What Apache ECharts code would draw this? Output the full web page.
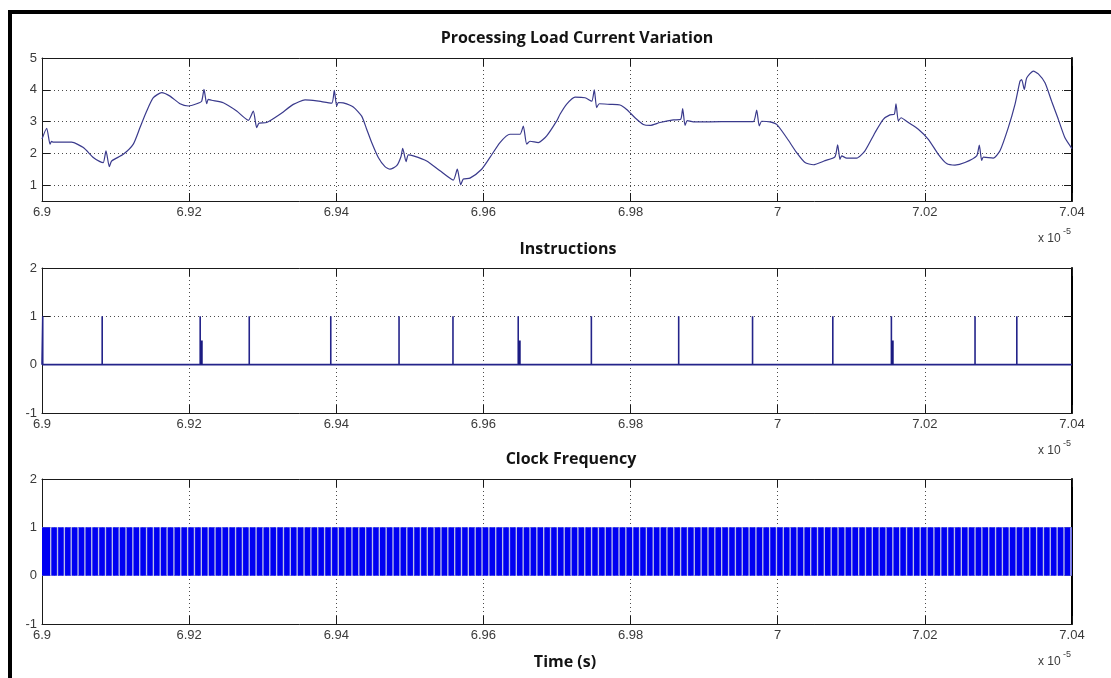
<!DOCTYPE html>
<html><head><meta charset="utf-8">
<script src="https://cdn.jsdelivr.net/npm/echarts@6/dist/echarts.min.js"></script>
<style>html,body{margin:0;padding:0;background:#fff}#c{width:1111px;height:678px}</style>
</head><body><div id="c"></div>
<script>
// ---- DATA (time in units of 1e-5 s) ----
const xMin = 6.9, xMax = 7.04, xStep = 0.02;
const currentTicks = [1, 2, 3, 4, 5];
const binaryTicks = [-1, 0, 1, 2];
const titles = ['Processing Load Current Variation', 'Instructions', 'Clock Frequency'];
const xAxisName = 'Time (s)';

const currentTime = [
6.90000,6.90064,6.90109,6.90130,6.90154,6.90403,6.90562,6.90697,6.90788,6.90833,6.90870,6.90915,6.90947,
6.91105,6.91241,6.91332,6.91423,6.91513,6.91627,6.91740,6.91876,6.91989,6.92102,6.92170,6.92202,6.92238,
6.92260,6.92306,6.92464,6.92646,6.92804,6.92872,6.92918,6.92950,6.93054,6.93235,6.93416,6.93575,
6.93734,6.93938,6.93973,6.94005,6.94028,6.94095,6.94231,6.94345,6.94413,6.94481,6.94571,6.94662,6.94730,
6.94821,6.94880,6.94903,6.94948,6.94979,6.95047,6.95229,6.95410,6.95591,6.95645,6.95691,6.95727,6.95817,
6.95976,6.96089,6.96225,6.96361,6.96497,6.96542,6.96588,6.96633,6.96746,6.96860,6.96996,
6.97041,6.97132,6.97245,6.97381,6.97472,6.97507,6.97539,6.97575,6.97720,6.97856,6.97947,6.98060,6.98173,
6.98264,6.98400,6.98581,6.98681,6.98708,6.98740,6.98771,6.98853,6.99079,6.99396,6.99668,6.99714,6.99749,
6.99782,6.99895,6.99986,7.00122,7.00258,7.00371,7.00484,
7.00643,7.00778,7.00815,7.00846,7.00869,7.00937,7.01073,7.01186,7.01322,7.01435,7.01526,7.01585,7.01608,
7.01639,7.01676,7.01775,7.01911,7.02047,7.02183,7.02296,7.02409,7.02545,7.02704,7.02740,7.02772,7.02795,
7.02930,7.03021,7.03134,7.03225,7.03293,7.03316,7.03352,7.03384,7.03474,7.03542,7.03633,7.03723,7.03814,
7.03904,7.04000];
const currentValue = [
2.45,2.79,2.29,2.38,2.35,2.35,2.18,1.87,1.74,1.71,2.08,1.58,1.76,
1.97,2.29,2.81,3.33,3.75,3.91,3.80,3.56,3.49,3.56,3.64,4.01,3.56,
3.70,3.67,3.59,3.33,3.04,3.33,2.81,2.95,2.97,3.23,3.54,3.68,
3.65,3.58,3.98,3.49,3.60,3.59,3.46,3.17,2.76,2.34,1.87,1.58,1.50,
1.61,1.90,2.16,1.74,1.95,1.92,1.76,1.45,1.16,1.50,1.01,1.19,1.22,
1.50,1.87,2.34,2.60,2.60,2.86,2.29,2.38,2.34,2.55,3.02,
3.23,3.55,3.77,3.75,3.64,4.00,3.44,3.56,3.54,3.52,3.38,3.12,2.91,
2.88,2.97,3.05,3.07,3.41,2.88,3.03,2.99,2.99,3.00,3.00,3.36,2.86,
3.01,2.99,2.91,2.49,2.02,1.71,1.64,
1.77,1.89,2.27,1.81,1.92,1.85,1.85,2.08,2.65,3.07,3.21,3.23,3.56,
3.02,3.12,2.97,2.76,2.44,1.97,1.68,1.63,1.71,1.92,2.26,1.78,1.88,
1.85,2.08,2.81,3.54,4.27,4.32,4.01,4.37,4.59,4.50,4.22,3.64,3.07,
2.49,2.15];

const instrTimes = [6.9001,6.90818,6.92150,6.92817,6.93925,6.94853,6.95586,6.96473,6.97467,6.98654,6.99658,7.00749,7.01545,7.02682,7.03250];
const instrHalfTimes = [6.92168,6.96490,7.01560];
const instrHigh = 1, instrHalf = 0.5, instrLow = 0;

// clock: start times of the short low phases
const clockLowStart = [
6.90109,6.90202,6.90295,6.90388,6.90481,6.90574,6.90667,6.90760,6.90854,6.90947,
6.91040,6.91133,6.91226,6.91319,6.91412,6.91505,6.91598,6.91691,6.91784,6.91877,
6.91970,6.92063,6.92157,6.92250,6.92343,6.92436,6.92529,6.92622,6.92715,6.92808,
6.92901,6.92994,6.93087,6.93180,6.93273,6.93366,6.93459,6.93553,6.93646,6.93739,
6.93832,6.93925,6.94018,6.94111,6.94204,6.94297,6.94390,6.94483,6.94576,6.94669,
6.94762,6.94856,6.94949,6.95042,6.95135,6.95228,6.95321,6.95414,6.95507,6.95600,
6.95693,6.95786,6.95879,6.95972,6.96065,6.96158,6.96252,6.96345,6.96438,6.96531,
6.96624,6.96717,6.96810,6.96903,6.96996,6.97089,6.97182,6.97275,6.97368,6.97461,
6.97554,6.97647,6.97740,6.97834,6.97927,6.98020,6.98113,6.98206,6.98299,6.98392,
6.98485,6.98578,6.98671,6.98764,6.98857,6.98950,6.99043,6.99136,6.99229,6.99323,
6.99416,6.99509,6.99602,6.99695,6.99788,6.99881,6.99974,7.00067,7.00160,7.00253,
7.00346,7.00439,7.00532,7.00625,7.00718,7.00811,7.00905,7.00998,7.01091,7.01184,
7.01277,7.01370,7.01463,7.01556,7.01649,7.01742,7.01835,7.01928,7.02021,7.02114,
7.02207,7.02300,7.02393,7.02487,7.02580,7.02673,7.02766,7.02859,7.02952,7.03045,
7.03138,7.03231,7.03324,7.03417,7.03510,7.03603,7.03696,7.03789,7.03882,7.03976];
const clockLowDuration = 0.00018;
const clockHigh = 1, clockLow = 0;

// ---- BUILD ----
const currentData = currentTime.map((t, i) => [t, currentValue[i]]);
const instrData = [[xMin, instrLow]];
instrTimes.forEach(t => { instrData.push([t, instrLow], [t, instrHigh], [t, instrLow]); });
instrData.push([xMax, instrLow]);
const halfData = [];
instrHalfTimes.forEach(t => { halfData.push([t, instrLow], [t, instrHalf], '-'); });

const pulses = [];
let prev = xMin;
clockLowStart.forEach(g => { pulses.push([prev, g, clockLow, clockHigh]); prev = g + clockLowDuration; });
pulses.push([prev, xMax, clockLow, clockHigh]);

const FONT = '"Liberation Sans", Arial, sans-serif';
const TFONT = '"Open Sans", sans-serif';
const grids = [
  {left: 42, top: 58, width: 1030, height: 143},
  {left: 42, top: 268, width: 1030, height: 145},
  {left: 42, top: 479, width: 1030, height: 145}
];
const yRanges = [[0.5, 5, currentTicks], [-1, 2, binaryTicks], [-1, 2, binaryTicks]];
const dotted = {color: '#4a4a4a', width: 1, type: [1, 3]};
const xAxes = [], yAxes = [];
grids.forEach((g, gi) => {
  xAxes.push({
    gridIndex: gi, type: 'value', min: xMin, max: xMax, interval: xStep, position: 'bottom',
    axisLine: {onZero: false, lineStyle: {color: '#1a1a1a', width: 1}},
    axisTick: {inside: true, length: 8, lineStyle: {color: '#1a1a1a'}},
    axisLabel: {color: '#3a3a3a', fontSize: 13, fontFamily: FONT, margin: 5,
      formatter: v => String(+(+v).toFixed(2))},
    splitLine: {show: true, lineStyle: dotted}
  });
  xAxes.push({
    gridIndex: gi, type: 'value', min: xMin, max: xMax, interval: xStep, position: 'top',
    axisLine: {onZero: false, lineStyle: {color: '#1a1a1a', width: 1}},
    axisTick: {inside: true, length: 8, lineStyle: {color: '#1a1a1a'}},
    axisLabel: {show: false}, splitLine: {show: false}
  });
  const [lo, hi, ticks] = yRanges[gi];
  yAxes.push({
    gridIndex: gi, type: 'value', min: lo, max: hi, position: 'left',
    axisLine: {show: true, onZero: false, lineStyle: {color: '#1a1a1a', width: 1}},
    axisTick: {show: true, inside: true, length: 8, customValues: ticks, lineStyle: {color: '#1a1a1a'}},
    axisLabel: {customValues: ticks, color: '#3a3a3a', fontSize: 13, fontFamily: FONT, margin: 5},
    splitLine: {show: true, lineStyle: dotted}
  });
  yAxes.push({
    gridIndex: gi, type: 'value', min: lo, max: hi, position: 'right',
    axisLine: {show: true, onZero: false, lineStyle: {color: '#000', width: 2}},
    axisTick: {show: true, inside: true, length: 8, customValues: ticks, lineStyle: {color: '#1a1a1a'}},
    axisLabel: {show: false}, splitLine: {show: false}
  });
});

const rectItem = (fill) => (params, api) => {
  const a = api.coord([api.value(0), api.value(3)]);
  const b = api.coord([api.value(1), api.value(2)]);
  return {type: 'rect', shape: {x: a[0], y: a[1], width: b[0] - a[0], height: b[1] - a[1]}, style: {fill: fill}};
};

const titleText = (txt, x, y) => ({type: 'text', x: x, y: y, z: 10,
  style: {text: txt, font: 'bold 16px ' + TFONT, fill: '#141414', align: 'center', verticalAlign: 'middle', textAlign: 'center', textVerticalAlign: 'middle'}});
const expText = (y) => ([
  {type: 'text', x: 1038, y: y, style: {text: 'x 10', font: '12px ' + FONT, fill: '#3a3a3a', verticalAlign: 'middle', textVerticalAlign: 'middle'}},
  {type: 'text', x: 1063, y: y - 7, style: {text: '-5', font: '9px ' + FONT, fill: '#3a3a3a', verticalAlign: 'middle', textVerticalAlign: 'middle'}}
]);

const chart = echarts.init(document.getElementById('c'), null, {renderer: 'canvas'});
chart.setOption({
  animation: false,
  backgroundColor: '#fff',
  grid: grids.map(g => Object.assign({outerBoundsMode: 'none', containLabel: false}, g)),
  xAxis: xAxes,
  yAxis: yAxes,
  series: [
    {type: 'line', xAxisIndex: 0, yAxisIndex: 0, data: currentData, showSymbol: false, symbol: 'none',
     smooth: 0.2,
     lineStyle: {color: '#3a3a8c', width: 1.2}, z: 5},
    {type: 'line', xAxisIndex: 2, yAxisIndex: 2, data: instrData, showSymbol: false, symbol: 'none',
     lineStyle: {color: '#24248a', width: 1.6}, z: 5},
    {type: 'line', xAxisIndex: 2, yAxisIndex: 2, data: halfData, showSymbol: false, symbol: 'none',
     connectNulls: false, lineStyle: {color: '#1a1a80', width: 2.5}, z: 6},
    {type: 'custom', xAxisIndex: 4, yAxisIndex: 4, data: [[xMin, xMax, clockLow, clockHigh]],
     encode: {x: [0, 1], y: [2, 3]}, renderItem: rectItem('#b9bde6'), z: 4},
    {type: 'custom', xAxisIndex: 4, yAxisIndex: 4, data: pulses,
     encode: {x: [0, 1], y: [2, 3]}, renderItem: rectItem('#0000f2'), z: 5}
  ],
  graphic: [
    {type: 'rect', shape: {x: 8, y: 10, width: 4, height: 668}, style: {fill: '#000'}},
    {type: 'rect', shape: {x: 8, y: 10, width: 1103, height: 4}, style: {fill: '#000'}},
    titleText(titles[0], 577, 38),
    titleText(titles[1], 568, 249),
    titleText(titles[2], 571, 459),
    titleText(xAxisName, 565, 662),
    ...expText(239), ...expText(451), ...expText(662)
  ]
});
</script></body></html>
